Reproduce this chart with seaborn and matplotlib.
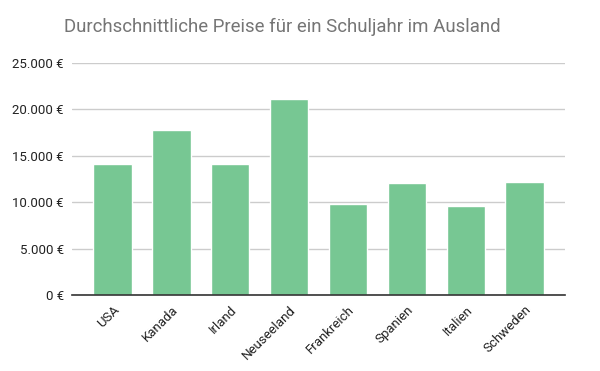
import matplotlib
matplotlib.use("Agg")
import matplotlib.pyplot as plt
import seaborn as sns
import pandas as pd
from matplotlib.ticker import FuncFormatter

countries = ["USA", "Kanada", "Irland", "Neuseeland", "Frankreich", "Spanien", "Italien", "Schweden"]
prices = [14050, 17750, 14050, 21150, 9800, 12050, 9600, 12150]
title = "Durchschnittliche Preise für ein Schuljahr im Ausland"

df = pd.DataFrame({"Land": countries, "Preis": prices})

sns.set_theme(style="white")
plt.rcParams["font.family"] = ["Roboto", "DejaVu Sans"]

fig = plt.figure(figsize=(6, 3.71), dpi=100)
ax = fig.add_axes([0.12, 0.2049, 0.822, 0.626])
sns.barplot(data=df, x="Land", y="Preis", color="#77c793", saturation=1, width=0.65, ax=ax)

ax.set_ylim(0, 25000)
ax.set_xlim(-0.69, 7.69)
ax.set_yticks([0, 5000, 10000, 15000, 20000, 25000])
ax.yaxis.set_major_formatter(FuncFormatter(lambda v, p: f"{int(v):,} €".replace(",", ".")))
ax.grid(axis="y", color="#cccccc", linewidth=1)
ax.set_axisbelow(True)
for s in ["top", "right", "left"]:
    ax.spines[s].set_visible(False)
ax.spines["bottom"].set_color("#333333")
ax.spines["bottom"].set_linewidth(1.2)
ax.set_xlabel("")
ax.set_ylabel("")
ax.tick_params(axis="both", length=0, labelsize=9.5, colors="#222222", pad=6)
for lbl in ax.get_xticklabels():
    lbl.set_rotation(45)
    lbl.set_ha("right")
    lbl.set_rotation_mode("anchor")

fig.text(0.47, 0.927, title, ha="center", va="center", fontsize=13.4, color="#757575")
fig.savefig("out.png", dpi=100)
